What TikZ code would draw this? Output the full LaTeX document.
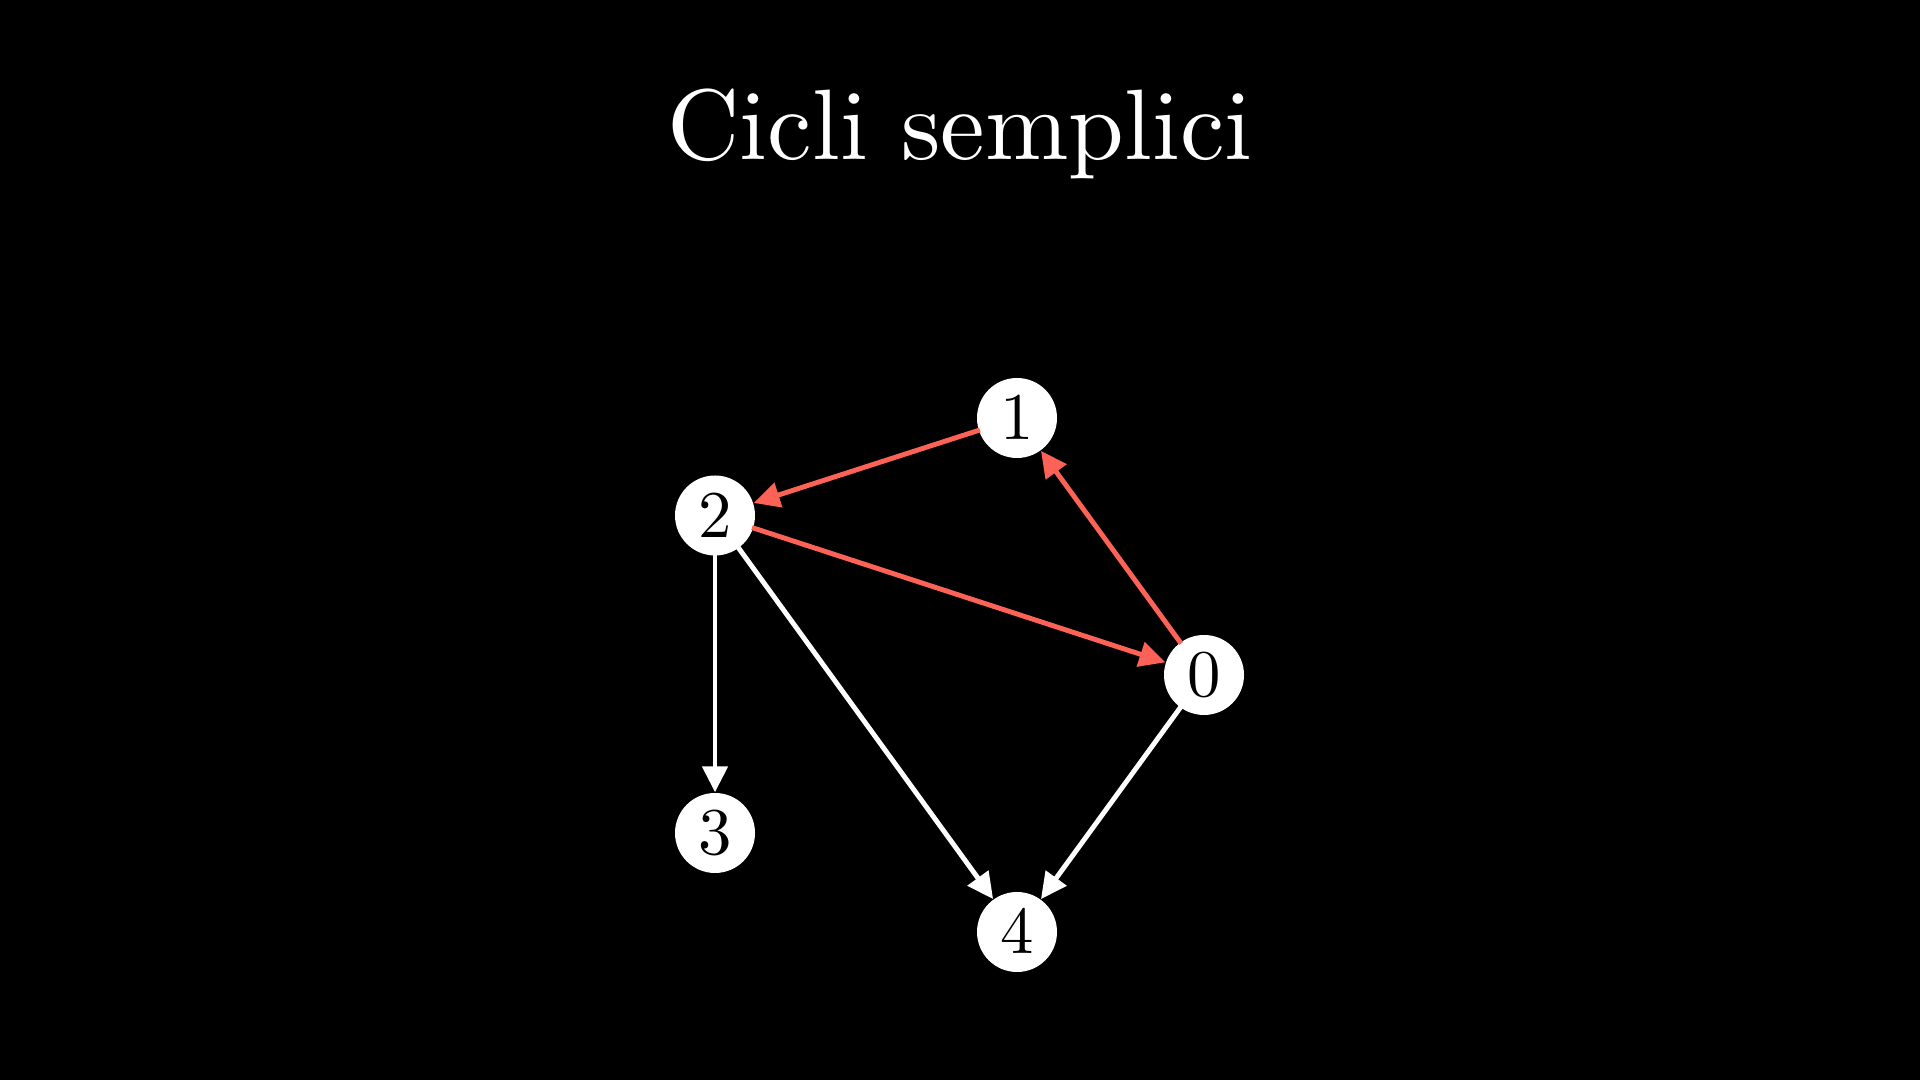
\documentclass[tikz,border=0pt]{standalone}
\usepackage{graphicx}
\usetikzlibrary{arrows.meta}
\definecolor{mred}{HTML}{FC6255}
\newcommand{\dig}[1]{\scalebox{1.9}{\fontsize{10}{12}\selectfont$#1$}}
\begin{document}
\begin{tikzpicture}[
  vert/.style={circle,fill=white,inner sep=0pt,minimum size=0.80cm,text=black},
  edge/.style={line width=1.4pt,-{Triangle[length=0.26cm,width=0.25cm]},shorten <=-0.5pt},
  redge/.style={edge,draw=mred,fill=mred},
  wedge/.style={edge,draw=white,fill=white}
]
\fill[black] (0,0) rectangle (19.2,10.8);
\useasboundingbox (0,0) rectangle (19.2,10.8);
\node[anchor=base,text=white,inner sep=0pt,scale=2.85,font=\fontsize{10}{12}\selectfont] (title) at (9.6,9.2) {Cicli semplici};
\node[vert] (n1) at (10.17,6.62) {\dig{1}};
\node[vert] (n2) at (7.15,5.645) {\dig{2}};
\node[vert] (n0) at (12.04,4.05) {\dig{0}};
\node[vert] (n3) at (7.15,2.47) {\dig{3}};
\node[vert] (n4) at (10.17,1.48) {\dig{4}};
\draw[redge] (n1) -- (n2);
\draw[redge] (n2) -- (n0);
\draw[redge] (n0) -- (n1);
\draw[wedge] (n2) -- (n3);
\draw[wedge] (n2) -- (n4);
\draw[wedge] (n0) -- (n4);
\end{tikzpicture}
\end{document}
